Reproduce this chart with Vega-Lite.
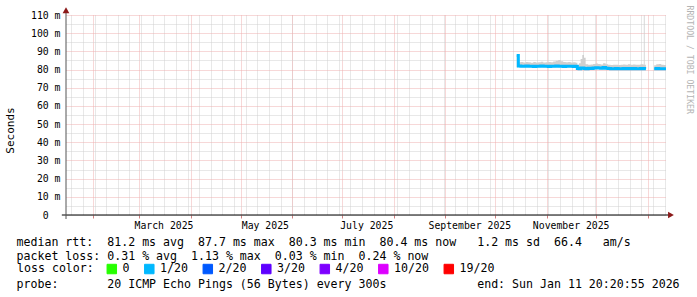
{
  "$schema": "https://vega.github.io/schema/vega-lite/v6.json",
  "width": 600,
  "height": 200,
  "autosize": {"type": "none"},
  "padding": {"left": 66, "top": 15, "right": 31, "bottom": 82},
  "background": "white",
  "config": {"view": {"stroke": null}, "font": "DejaVu Sans Mono"},
  "datasets": {
    "rtt": [
      {"t": "2025-10-14T00:00:00", "seg": "a", "loss": "1/20", "med": 87.7, "lo": 81.2, "hi": 88.0},
      {"t": "2025-10-15T00:00:00", "seg": "a", "loss": "1/20", "med": 81.9, "lo": 81.4, "hi": 84.0},
      {"t": "2025-10-16T12:00:00", "seg": "a", "loss": "1/20", "med": 81.8, "lo": 81.3, "hi": 84.2},
      {"t": "2025-10-18T00:00:00", "seg": "a", "loss": "1/20", "med": 81.8, "lo": 81.3, "hi": 83.9},
      {"t": "2025-10-19T12:00:00", "seg": "a", "loss": "1/20", "med": 81.9, "lo": 81.4, "hi": 84.1},
      {"t": "2025-10-21T00:00:00", "seg": "a", "loss": "1/20", "med": 81.8, "lo": 81.3, "hi": 84.0},
      {"t": "2025-10-22T12:00:00", "seg": "a", "loss": "1/20", "med": 81.8, "lo": 81.3, "hi": 83.8},
      {"t": "2025-10-24T00:00:00", "seg": "a", "loss": "1/20", "med": 81.7, "lo": 81.2, "hi": 84.1},
      {"t": "2025-10-25T12:00:00", "seg": "a", "loss": "1/20", "med": 81.8, "lo": 81.3, "hi": 83.9},
      {"t": "2025-10-27T00:00:00", "seg": "a", "loss": "1/20", "med": 81.8, "lo": 81.3, "hi": 84.0},
      {"t": "2025-10-28T12:00:00", "seg": "a", "loss": "1/20", "med": 81.9, "lo": 81.4, "hi": 84.3},
      {"t": "2025-10-30T00:00:00", "seg": "a", "loss": "1/20", "med": 81.8, "lo": 81.3, "hi": 83.9},
      {"t": "2025-10-31T12:00:00", "seg": "a", "loss": "1/20", "med": 81.8, "lo": 81.3, "hi": 84.0},
      {"t": "2025-11-02T00:00:00", "seg": "a", "loss": "1/20", "med": 81.7, "lo": 81.2, "hi": 84.2},
      {"t": "2025-11-03T12:00:00", "seg": "a", "loss": "1/20", "med": 81.8, "lo": 81.3, "hi": 84.0},
      {"t": "2025-11-05T00:00:00", "seg": "a", "loss": "1/20", "med": 81.8, "lo": 81.3, "hi": 84.4},
      {"t": "2025-11-06T12:00:00", "seg": "a", "loss": "1/20", "med": 81.9, "lo": 81.4, "hi": 84.8},
      {"t": "2025-11-08T00:00:00", "seg": "a", "loss": "1/20", "med": 81.8, "lo": 81.3, "hi": 85.2},
      {"t": "2025-11-09T12:00:00", "seg": "a", "loss": "1/20", "med": 81.8, "lo": 81.3, "hi": 84.5},
      {"t": "2025-11-11T00:00:00", "seg": "a", "loss": "1/20", "med": 81.7, "lo": 81.2, "hi": 84.1},
      {"t": "2025-11-12T12:00:00", "seg": "a", "loss": "1/20", "med": 81.8, "lo": 81.3, "hi": 84.0},
      {"t": "2025-11-14T00:00:00", "seg": "a", "loss": "1/20", "med": 81.8, "lo": 81.3, "hi": 84.2},
      {"t": "2025-11-15T12:00:00", "seg": "a", "loss": "1/20", "med": 81.8, "lo": 81.3, "hi": 83.9},
      {"t": "2025-11-17T00:00:00", "seg": "a", "loss": "1/20", "med": 81.7, "lo": 81.2, "hi": 84.0},
      {"t": "2025-11-18T12:00:00", "seg": "a", "loss": "1/20", "med": 81.8, "lo": 81.3, "hi": 83.7},
      {"t": "2025-11-19T12:00:00", "seg": "a", "loss": "1/20", "med": 80.6, "lo": 80.1, "hi": 82.4},
      {"t": "2025-11-20T12:00:00", "seg": "a", "loss": "1/20", "med": 80.5, "lo": 80.0, "hi": 83.5},
      {"t": "2025-11-21T12:00:00", "seg": "a", "loss": "1/20", "med": 80.9, "lo": 80.3, "hi": 85.8},
      {"t": "2025-11-22T12:00:00", "seg": "a", "loss": "1/20", "med": 80.8, "lo": 80.2, "hi": 88.0},
      {"t": "2025-11-23T12:00:00", "seg": "a", "loss": "1/20", "med": 80.6, "lo": 80.1, "hi": 86.5},
      {"t": "2025-11-24T12:00:00", "seg": "a", "loss": "1/20", "med": 80.4, "lo": 79.9, "hi": 82.9},
      {"t": "2025-11-26T00:00:00", "seg": "a", "loss": "1/20", "med": 80.7, "lo": 80.2, "hi": 82.6},
      {"t": "2025-11-27T12:00:00", "seg": "a", "loss": "1/20", "med": 80.6, "lo": 80.1, "hi": 82.8},
      {"t": "2025-11-29T00:00:00", "seg": "a", "loss": "1/20", "med": 80.8, "lo": 80.2, "hi": 83.1},
      {"t": "2025-11-30T12:00:00", "seg": "a", "loss": "1/20", "med": 81.0, "lo": 80.4, "hi": 83.3},
      {"t": "2025-12-02T00:00:00", "seg": "a", "loss": "1/20", "med": 80.9, "lo": 80.3, "hi": 83.0},
      {"t": "2025-12-03T12:00:00", "seg": "a", "loss": "1/20", "med": 80.7, "lo": 80.2, "hi": 82.8},
      {"t": "2025-12-05T00:00:00", "seg": "a", "loss": "1/20", "med": 81.1, "lo": 80.5, "hi": 83.4},
      {"t": "2025-12-06T12:00:00", "seg": "a", "loss": "1/20", "med": 80.7, "lo": 80.2, "hi": 82.9},
      {"t": "2025-12-08T00:00:00", "seg": "a", "loss": "1/20", "med": 80.6, "lo": 80.1, "hi": 82.7},
      {"t": "2025-12-09T12:00:00", "seg": "a", "loss": "1/20", "med": 80.4, "lo": 79.9, "hi": 82.5},
      {"t": "2025-12-11T00:00:00", "seg": "a", "loss": "1/20", "med": 80.5, "lo": 80.0, "hi": 82.6},
      {"t": "2025-12-12T12:00:00", "seg": "a", "loss": "1/20", "med": 80.6, "lo": 80.1, "hi": 82.7},
      {"t": "2025-12-14T00:00:00", "seg": "a", "loss": "1/20", "med": 80.4, "lo": 79.9, "hi": 82.5},
      {"t": "2025-12-15T12:00:00", "seg": "a", "loss": "1/20", "med": 80.5, "lo": 80.0, "hi": 82.6},
      {"t": "2025-12-17T00:00:00", "seg": "a", "loss": "1/20", "med": 80.6, "lo": 80.1, "hi": 82.8},
      {"t": "2025-12-18T12:00:00", "seg": "a", "loss": "1/20", "med": 80.5, "lo": 80.0, "hi": 82.7},
      {"t": "2025-12-20T00:00:00", "seg": "a", "loss": "1/20", "med": 80.6, "lo": 80.1, "hi": 82.9},
      {"t": "2025-12-21T12:00:00", "seg": "a", "loss": "1/20", "med": 80.5, "lo": 80.0, "hi": 82.6},
      {"t": "2025-12-23T00:00:00", "seg": "a", "loss": "1/20", "med": 80.6, "lo": 80.1, "hi": 82.8},
      {"t": "2025-12-24T12:00:00", "seg": "a", "loss": "1/20", "med": 80.4, "lo": 79.9, "hi": 82.6},
      {"t": "2025-12-26T00:00:00", "seg": "a", "loss": "1/20", "med": 80.5, "lo": 80.0, "hi": 82.7},
      {"t": "2025-12-27T12:00:00", "seg": "a", "loss": "1/20", "med": 80.6, "lo": 80.1, "hi": 82.9},
      {"t": "2025-12-29T00:00:00", "seg": "a", "loss": "1/20", "med": 80.5, "lo": 80.0, "hi": 82.8},
      {"t": "2025-12-29T12:00:00", "seg": "a", "loss": "1/20", "med": 80.6, "lo": 80.0, "hi": 110.0},
      {"t": "2025-12-30T00:00:00", "seg": "a", "loss": "1/20", "med": 80.5, "lo": 80.0, "hi": 82.7},
      {"t": "2025-12-30T18:00:00", "seg": "a", "loss": "1/20", "med": 80.5, "lo": 80.0, "hi": 82.7},
      {"t": "2026-01-04T18:00:00", "seg": "b", "loss": "1/20", "med": 80.5, "lo": 80.0, "hi": 82.4},
      {"t": "2026-01-06T00:00:00", "seg": "b", "loss": "1/20", "med": 80.6, "lo": 80.1, "hi": 82.9},
      {"t": "2026-01-07T12:00:00", "seg": "b", "loss": "1/20", "med": 80.5, "lo": 80.0, "hi": 83.0},
      {"t": "2026-01-09T00:00:00", "seg": "b", "loss": "1/20", "med": 80.4, "lo": 79.9, "hi": 82.6},
      {"t": "2026-01-10T12:00:00", "seg": "b", "loss": "1/20", "med": 80.5, "lo": 80.0, "hi": 82.5},
      {"t": "2026-01-11T20:20:55", "seg": "b", "loss": "1/20", "med": 80.4, "lo": 79.9, "hi": 82.5}
    ]
  },
  "resolve": {"axis": {"x": "independent", "y": "independent"}},
  "layer": [
    {
      "data": {"name": "rtt"},
      "mark": {"type": "area", "interpolate": "step-after", "color": "#cfcfcf", "clip": true},
      "encoding": {
        "x": {
          "field": "t", "type": "temporal",
          "scale": {"domain": [{"year": 2025, "month": 1, "date": 15, "hours": 20, "minutes": 20, "seconds": 55}, {"year": 2026, "month": 1, "date": 11, "hours": 20, "minutes": 20, "seconds": 55}], "nice": false},
          "axis": {
            "orient": "bottom", "tickCount": {"interval": "week", "step": 1},
            "labels": false, "ticks": false, "domain": false,
            "grid": true, "gridColor": "#d0d0d0", "gridDash": [1, 1], "gridWidth": 1,
            "title": "probe:\u00a0\u00a0\u00a0\u00a0\u00a0\u00a0\u00a020\u00a0ICMP\u00a0Echo\u00a0Pings\u00a0(56\u00a0Bytes)\u00a0every\u00a0300s\u00a0\u00a0\u00a0\u00a0\u00a0\u00a0\u00a0\u00a0\u00a0\u00a0\u00a0\u00a0\u00a0end:\u00a0Sun\u00a0Jan\u00a011\u00a020:20:55\u00a02026",
            "titleX": -50, "titleY": 72, "titleAlign": "left", "titleAnchor": "start", "titleBaseline": "alphabetic",
            "titleFont": "DejaVu Sans Mono", "titleFontSize": 11.6, "titleFontWeight": "normal", "titleColor": "#000000"
          }
        },
        "y": {
          "field": "lo", "type": "quantitative",
          "scale": {"domain": [0, 110], "nice": false, "zero": false},
          "axis": {
            "orient": "left", "values": [0, 5, 15, 25, 35, 45, 55, 65, 75, 85, 95, 105],
            "labelExpr": "datum.value == 0 ? '0' : ''",
            "labelFont": "DejaVu Sans Mono", "labelFontSize": 9.8, "labelColor": "#000000", "labelPadding": 17.8,
            "ticks": false, "tickSize": 0, "domain": false,
            "grid": true, "gridColor": "#d0d0d0", "gridDash": [1, 1], "gridWidth": 1, "title": null
          }
        },
        "y2": {"field": "hi"},
        "detail": {"field": "seg"}
      }
    },
    {
      "data": {"name": "rtt"},
      "mark": {"type": "line", "interpolate": "step-after", "strokeWidth": 3, "clip": true},
      "encoding": {
        "x": {
          "field": "t", "type": "temporal",
          "axis": {
            "orient": "bottom", "tickCount": {"interval": "month", "step": 1},
            "labels": false, "ticks": true, "tickSize": 3, "tickColor": "#d08080", "domain": false,
            "grid": true, "gridColor": "#efb0b0", "gridDash": [1, 1], "gridWidth": 1,
            "title": ["median\u00a0rtt:\u00a0\u00a081.2\u00a0ms\u00a0avg\u00a0\u00a087.7\u00a0ms\u00a0max\u00a0\u00a080.3\u00a0ms\u00a0min\u00a0\u00a080.4\u00a0ms\u00a0now\u00a0\u00a0\u00a01.2\u00a0ms\u00a0sd\u00a0\u00a066.4\u00a0\u00a0\u00a0am/s", "packet\u00a0loss:\u00a00.31\u00a0%\u00a0avg\u00a0\u00a01.13\u00a0%\u00a0max\u00a0\u00a00.03\u00a0%\u00a0min\u00a0\u00a00.24\u00a0%\u00a0now"],
            "titleX": -50, "titleY": 30, "titleAlign": "left", "titleAnchor": "start", "titleBaseline": "alphabetic", "titleLineHeight": 14,
            "titleFont": "DejaVu Sans Mono", "titleFontSize": 11.6, "titleFontWeight": "normal", "titleColor": "#000000"
          }
        },
        "y": {
          "field": "med", "type": "quantitative",
          "axis": {
            "orient": "left", "values": [10, 20, 30, 40, 50, 60, 70, 80, 90, 100, 110],
            "labelExpr": "datum.value + ' m'",
            "labelFont": "DejaVu Sans Mono", "labelFontSize": 9.8, "labelColor": "#000000", "labelPadding": 6,
            "ticks": false, "tickSize": 0, "domain": false,
            "grid": true, "gridColor": "#efb0b0", "gridDash": [1, 1], "gridWidth": 1,
            "title": "Seconds", "titleX": -56, "titleY": 115, "titleAngle": 270, "titleAlign": "center", "titleBaseline": "middle",
            "titleFont": "DejaVu Sans Mono", "titleFontSize": 11, "titleFontWeight": "normal", "titleColor": "#000000"
          }
        },
        "color": {
          "field": "loss", "type": "nominal",
          "scale": {"domain": ["0", "1/20", "2/20", "3/20", "4/20", "10/20", "19/20"], "range": ["#26ff00", "#00b8ff", "#0059ff", "#5e00ff", "#7e00ff", "#dd00ff", "#ff0000"]},
          "legend": {
            "orient": "none", "legendX": -49, "legendY": 248, "direction": "horizontal", "padding": 0,
            "title": "loss\u00a0color:", "titleOrient": "left", "titlePadding": 12,
            "titleFont": "DejaVu Sans Mono", "titleFontSize": 11.6, "titleFontWeight": "normal", "titleColor": "#000000",
            "labelFont": "DejaVu Sans Mono", "labelFontSize": 11.6, "labelColor": "#000000", "labelOffset": 5,
            "columnPadding": 12.5, "symbolType": "square", "symbolSize": 90,
            "symbolStrokeColor": "#000000", "symbolStrokeWidth": 1,
            "encode": {"symbols": {"update": {"fill": {"scale": "color", "field": "value"}, "stroke": {"value": "#000000"}, "strokeWidth": {"value": 1}, "opacity": {"value": 1}}}}
          }
        },
        "detail": {"field": "seg"}
      }
    },
    {
      "data": {"values": [{}]},
      "mark": {"type": "rule", "color": "#000000", "strokeWidth": 1},
      "encoding": {
        "x": {
          "datum": {"expr": "datetime(2025, 0, 13, 8, 0, 0)"}, "type": "temporal",
          "axis": {
            "orient": "bottom",
            "values": [{"year": 2025, "month": 3, "date": 15, "hours": 12}, {"year": 2025, "month": 5, "date": 15, "hours": 12}, {"year": 2025, "month": 7, "date": 15, "hours": 12}, {"year": 2025, "month": 9, "date": 15, "hours": 12}, {"year": 2025, "month": 11, "date": 15, "hours": 12}],
            "format": "%B %Y", "formatType": "time",
            "labelFont": "DejaVu Sans Mono", "labelFontSize": 9.8, "labelColor": "#000000", "labelPadding": 5,
            "ticks": false, "tickSize": 0, "domain": false, "grid": false, "title": null
          }
        },
        "x2": {"datum": {"expr": "datetime(2026, 0, 14, 6, 0, 0)"}},
        "y": {
          "datum": 0, "type": "quantitative",
          "axis": {
            "orient": "right", "labels": false, "ticks": false, "domain": false, "grid": false,
            "title": "RRDTOOL / TOBI OETIKER", "titleX": 22, "titleY": -10, "titleAngle": 90, "titleAlign": "left", "titleBaseline": "middle",
            "titleFont": "DejaVu Sans Mono", "titleFontSize": 8.2, "titleFontWeight": "normal", "titleColor": "#b4b4b4"
          }
        }
      }
    },
    {
      "data": {"values": [{}]},
      "mark": {"type": "rule", "color": "#555555", "strokeWidth": 1},
      "encoding": {
        "x": {"datum": {"expr": "datetime(2025, 0, 15, 20, 20, 55)"}, "type": "temporal", "axis": null},
        "y": {"datum": -2.2, "type": "quantitative", "axis": null},
        "y2": {"datum": 112.3}
      }
    },
    {
      "data": {"values": [{}]},
      "mark": {"type": "point", "shape": "triangle-up", "filled": true, "size": 45, "color": "#8b1a1a", "opacity": 1},
      "encoding": {
        "x": {"datum": {"expr": "datetime(2025, 0, 15, 20, 20, 55)"}, "type": "temporal", "axis": null},
        "y": {"datum": 112.6, "type": "quantitative", "axis": null}
      }
    },
    {
      "data": {"values": [{}]},
      "mark": {"type": "point", "shape": "triangle-right", "filled": true, "size": 45, "color": "#8b1a1a", "opacity": 1},
      "encoding": {
        "x": {"datum": {"expr": "datetime(2026, 0, 14, 20, 0, 0)"}, "type": "temporal", "axis": null},
        "y": {"datum": 0, "type": "quantitative", "axis": null}
      }
    }
  ]
}
